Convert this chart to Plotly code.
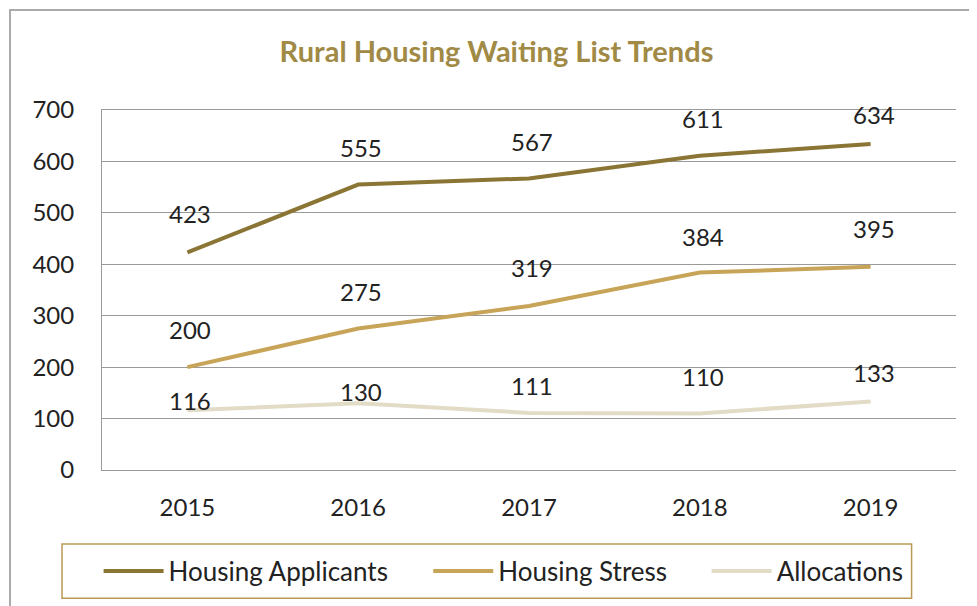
import plotly.graph_objects as go

years = ["2015", "2016", "2017", "2018", "2019"]
applicants = [423, 555, 567, 611, 634]
stress = [200, 275, 319, 384, 395]
allocations = [116, 130, 111, 110, 133]
y_ticks = [0, 100, 200, 300, 400, 500, 600, 700]

# label vertical offsets (px) as placed in the original chart
label_shift_applicants = [38, 36, 36, 36, 28]
label_shift_stress = [37, 36, 37, 35, 37]
label_shift_allocations = [9, 11, 26, 36, 28]

series = [
    ("Housing Applicants", applicants, "#8a7535", label_shift_applicants, "legend"),
    ("Housing Stress", stress, "#c8a458", label_shift_stress, "legend2"),
    ("Allocations", allocations, "#e2dcc7", label_shift_allocations, "legend3"),
]

FONT = "Lato"
TXT = "#222222"

fig = go.Figure()
for name, vals, col, shifts, leg in series:
    fig.add_trace(go.Scatter(
        x=years, y=vals, name=name, mode="lines", legend=leg,
        line=dict(color=col, width=4),
    ))
    for i, (v, s) in enumerate(zip(vals, shifts)):
        fig.add_annotation(x=i, y=v, xref="x", yref="y", text=str(v), showarrow=False,
                           yshift=s + 1, xshift=3,
                           font=dict(size=24, color=TXT, family=FONT))

leg_common = dict(orientation="h", y=-0.2806, yanchor="middle", xanchor="left",
                  bgcolor="rgba(0,0,0,0)", font=dict(size=26, family=FONT, color=TXT),
                  itemwidth=60)

fig.update_layout(
    width=977, height=606,
    margin=dict(l=94, r=29, t=102, b=144),
    paper_bgcolor="white", plot_bgcolor="white",
    title=dict(text="<b>Rural Housing Waiting List Trends</b>", x=0.5, xanchor="center",
               y=0.927, yanchor="middle",
               font=dict(size=29, color="#a08a45", family=FONT)),
    font=dict(family=FONT, size=24, color=TXT),
    showlegend=True,
    legend=dict(x=-0.004, **leg_common),
    legend2=dict(x=0.382, **leg_common),
    legend3=dict(x=0.708, **leg_common),
    xaxis=dict(type="category", range=[-0.5, 4.5], showgrid=False, showline=True,
               mirror=True, linecolor="#9a9a9a", linewidth=1,
               ticks="", ticklabelstandoff=16, tickfont=dict(size=24), zeroline=False),
    yaxis=dict(range=[0, 700], tickvals=y_ticks, showgrid=True, gridcolor="#9a9a9a",
               gridwidth=1, showline=True, linecolor="#9a9a9a", linewidth=1,
               ticks="", ticklabelstandoff=22, tickfont=dict(size=24), zeroline=False),
    shapes=[
        dict(type="rect", xref="paper", yref="paper", x0=-0.0468, x1=0.948, y0=-0.2056, y1=-0.356,
             line=dict(color="#b89a55", width=1.5), fillcolor="rgba(0,0,0,0)"),
        dict(type="rect", xref="paper", yref="paper", x0=-0.1077, x1=1.04, y0=-0.40, y1=1.278,
             line=dict(color="#aaaaaa", width=2), fillcolor="rgba(0,0,0,0)"),
    ],
)

fig.write_html("out.html")
